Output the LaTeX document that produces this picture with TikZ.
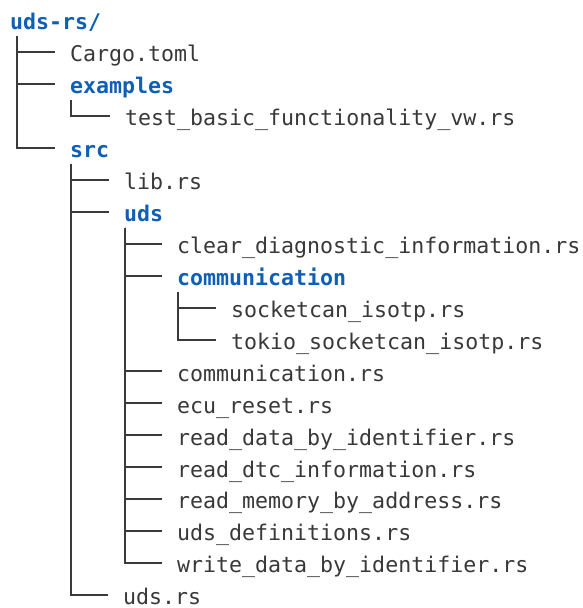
\documentclass[tikz,border=0pt]{standalone}
\usepackage{fontspec}
\usepackage{tikz}
\usetikzlibrary{positioning}
\newfontfamily\monofamily{DejaVu Sans Mono}
\definecolor{dirblue}{HTML}{0F5FB5}
\definecolor{txtgray}{HTML}{383838}
\definecolor{linegray}{HTML}{3A3A3A}

\begin{document}
\begin{tikzpicture}[x=1pt, y=1pt,
                    filenode/.style={anchor=base west, inner sep=0pt, text height=19.4pt, text depth=0pt,
                                     text=txtgray, font=\monofamily\fontsize{21.6}{26}\selectfont},
                    dirnode/.style={filenode, text=dirblue, font=\monofamily\bfseries\fontsize{21.6}{26}\selectfont},
                    treeline/.style={draw=linegray, line width=2pt}
                   ]
\useasboundingbox (0,0) rectangle (582,-608);
%Nodes
\node[dirnode]  (root)    at (10,-29.7)   {uds-rs/};
\node[filenode] (cargo)   at (70,-61.65)  {Cargo.toml};
\node[dirnode]  (examples)at (70,-93.6)   {examples};
\node[filenode] (test)    at (125,-125.55){test\_basic\_functionality\_vw.rs};
\node[dirnode]  (src)     at (70,-157.5)  {src};
\node[filenode] (lib)     at (124,-189.45){lib.rs};
\node[dirnode]  (uds)     at (124,-221.4) {uds};
\node[filenode] (clear)   at (177,-253.35){clear\_diagnostic\_information.rs};
\node[dirnode]  (comm)    at (177,-285.3) {communication};
\node[filenode] (socket)  at (231,-317.25){socketcan\_isotp.rs};
\node[filenode] (tokio)   at (231,-349.2) {tokio\_socketcan\_isotp.rs};
\node[filenode] (commrs)  at (177,-381.15){communication.rs};
\node[filenode] (ecu)     at (177,-413.1) {ecu\_reset.rs};
\node[filenode] (rdbi)    at (177,-445.05){read\_data\_by\_identifier.rs};
\node[filenode] (rdtc)    at (177,-477)   {read\_dtc\_information.rs};
\node[filenode] (rmba)    at (177,-508.95){read\_memory\_by\_address.rs};
\node[filenode] (defs)    at (177,-540.9) {uds\_definitions.rs};
\node[filenode] (wdbi)    at (177,-572.85){write\_data\_by\_identifier.rs};
\node[filenode] (udsrs)   at (123,-604.8) {uds.rs};
%Tops of the branches
\coordinate (root-t)     at ([xshift=7pt, yshift=-6pt]root.south west);
\coordinate (examples-t) at ([xshift=1pt, yshift=-6pt]examples.south west);
\coordinate (src-t)      at ([xshift=1pt, yshift=-6pt]src.south west);
\coordinate (uds-t)      at ([xshift=1pt, yshift=-6pt]uds.south west);
\coordinate (comm-t)     at ([xshift=1pt, yshift=-6pt]comm.south west);
%Lines
\foreach \p/\c in {root/cargo, root/examples, root/src,
                   examples/test,
                   src/lib, src/uds, src/udsrs,
                   uds/clear, uds/comm, uds/commrs, uds/ecu, uds/rdbi,
                   uds/rdtc, uds/rmba, uds/defs, uds/wdbi,
                   comm/socket, comm/tokio}
  \draw[treeline] (\p-t) |- ([xshift=-15pt]\c.west);
\end{tikzpicture}
\end{document}
